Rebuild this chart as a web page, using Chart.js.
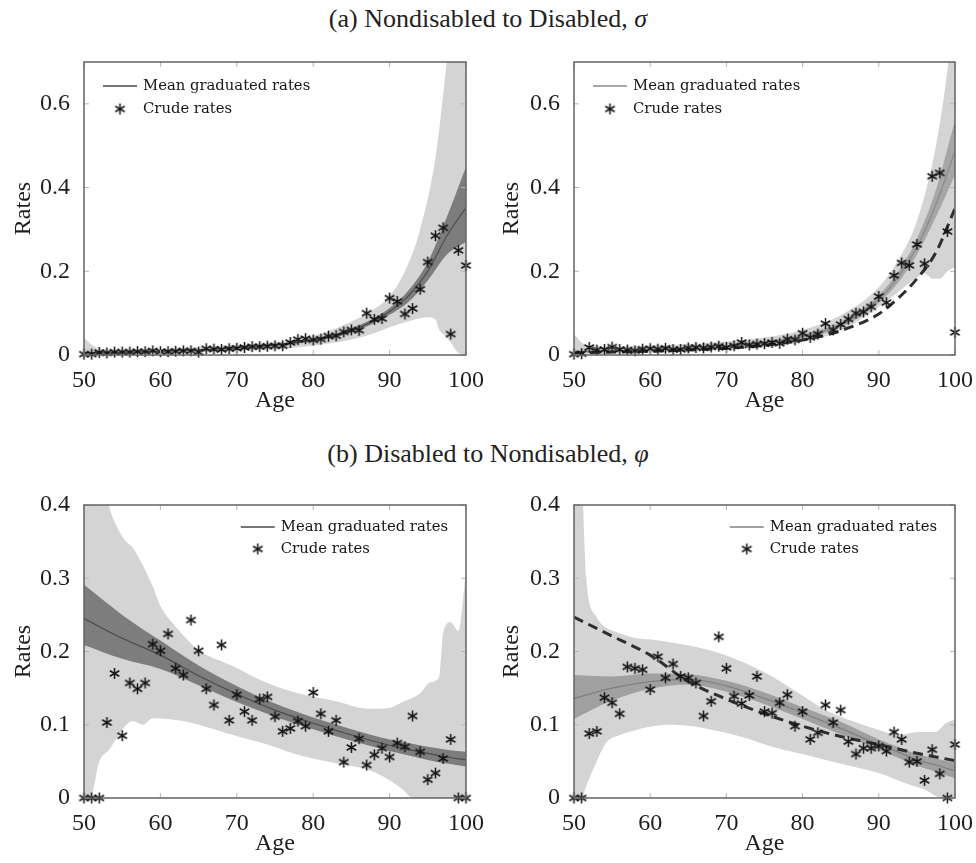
<!DOCTYPE html>
<html>
<head>
<meta charset="utf-8">
<title>Transition rates</title>
<script src="https://cdn.jsdelivr.net/npm/chart.js@4.4.0/dist/chart.umd.min.js"></script>
<style>
  body { margin: 0; background: #fff; }
  #page { position: relative; width: 976px; height: 863px; }
  .title {
    position: absolute; left: 0; width: 976px; text-align: center;
    font-family: "Liberation Serif", serif; font-size: 26px; color: #222;
  }
  canvas { position: absolute; }
</style>
</head>
<body>
<div id="page">
  <div class="title" style="top: 4px;">(a) Nondisabled to Disabled, <i>σ</i></div>
  <canvas id="chartA1" width="488" height="377" style="left: 0; top: 40px;"></canvas>
  <canvas id="chartA2" width="488" height="377" style="left: 488px; top: 40px;"></canvas>
  <div class="title" style="top: 439px;">(b) Disabled to Nondisabled, <i>φ</i></div>
  <canvas id="chartB1" width="488" height="377" style="left: 0; top: 483px;"></canvas>
  <canvas id="chartB2" width="488" height="377" style="left: 488px; top: 483px;"></canvas>
</div>

<script>
// ---- ticks ----
const xTicks = [50, 60, 70, 80, 90, 100];
const yTicksA = [0, 0.2, 0.4, 0.6];
const yTicksB = [0, 0.1, 0.2, 0.3, 0.4];

// ---- ages ----
const crudeAges = [50, 51, 52, 53, 54, 55, 56, 57, 58, 59,
                   60, 61, 62, 63, 64, 65, 66, 67, 68, 69,
                   70, 71, 72, 73, 74, 75, 76, 77, 78, 79,
                   80, 81, 82, 83, 84, 85, 86, 87, 88, 89,
                   90, 91, 92, 93, 94, 95, 96, 97, 98, 99, 100];
const curveAges = [50, 55, 60, 65, 70, 75, 80, 85, 90, 92.5, 95, 97.5, 100];

// ---- (a) left: nondisabled to disabled ----
const crudeA1 = [0.002, 0.002, 0.006, 0.005, 0.007, 0.007, 0.007, 0.008, 0.008, 0.010,
                 0.008, 0.008, 0.009, 0.010, 0.010, 0.007, 0.015, 0.014, 0.013, 0.015,
                 0.016, 0.018, 0.020, 0.020, 0.021, 0.022, 0.022, 0.030, 0.037, 0.039,
                 0.036, 0.038, 0.045, 0.046, 0.055, 0.060, 0.059, 0.100, 0.085, 0.087,
                 0.136, 0.128, 0.098, 0.111, 0.157, 0.222, 0.285, 0.304, 0.050, 0.250, 0.214];
const meanA1 = [0.005, 0.007, 0.009, 0.012, 0.017, 0.024, 0.036, 0.058, 0.104, 0.142, 0.200, 0.285, 0.352];
const innerHiA1 = [0.006, 0.008, 0.010, 0.013, 0.018, 0.026, 0.039, 0.063, 0.112, 0.155, 0.222, 0.330, 0.450];
const innerLoA1 = [0.004, 0.006, 0.008, 0.011, 0.016, 0.022, 0.033, 0.053, 0.096, 0.127, 0.178, 0.240, 0.270];
const outerHiAgesA1 = [50, 51, 52, 55, 60, 65, 70, 75, 80, 85, 88, 90, 92, 94, 96, 97, 98, 100];
const outerHiA1 = [0.040, 0.025, 0.015, 0.012, 0.014, 0.018, 0.024, 0.030, 0.045, 0.080, 0.110, 0.140, 0.200, 0.300, 0.470, 0.620, 0.800, 1.300];
const outerLoAgesA1 = [50, 55, 60, 65, 70, 75, 80, 85, 88, 90, 92, 94, 95, 96, 96.5, 97, 98, 99, 100];
const outerLoA1 = [0, 0.003, 0.005, 0.007, 0.010, 0.014, 0.022, 0.037, 0.052, 0.066, 0.078, 0.088, 0.090, 0.085, 0.060, 0.050, 0.030, 0.005, 0];

// ---- (a) right ----
const crudeA2 = [0.002, 0.003, 0.018, 0.012, 0.013, 0.019, 0.013, 0.012, 0.010, 0.014,
                 0.015, 0.014, 0.016, 0.013, 0.013, 0.017, 0.018, 0.017, 0.019, 0.021,
                 0.018, 0.022, 0.030, 0.024, 0.026, 0.027, 0.030, 0.028, 0.038, 0.036,
                 0.052, 0.042, 0.050, 0.075, 0.060, 0.073, 0.086, 0.100, 0.103, 0.115,
                 0.140, 0.125, 0.190, 0.220, 0.214, 0.264, 0.218, 0.427, 0.435, 0.295, 0.054];
const meanA2 = [0.008, 0.010, 0.013, 0.016, 0.021, 0.029, 0.045, 0.072, 0.134, 0.185, 0.258, 0.360, 0.487];
const innerHiA2 = [0.010, 0.012, 0.015, 0.018, 0.023, 0.032, 0.049, 0.078, 0.143, 0.198, 0.278, 0.395, 0.560];
const innerLoA2 = [0.006, 0.008, 0.011, 0.014, 0.019, 0.026, 0.041, 0.066, 0.125, 0.172, 0.240, 0.330, 0.430];
const dashedA2 = [0.005, 0.007, 0.009, 0.012, 0.016, 0.023, 0.036, 0.058, 0.098, 0.135, 0.182, 0.245, 0.350];
const outerHiAgesA2 = [50, 51, 52, 55, 60, 65, 70, 75, 80, 85, 90, 92.5, 95, 97.5, 99, 100];
const outerHiA2 = [0.050, 0.030, 0.022, 0.020, 0.022, 0.026, 0.032, 0.042, 0.060, 0.095, 0.162, 0.225, 0.320, 0.500, 0.680, 0.850];
const outerLoAgesA2 = [50, 55, 60, 65, 70, 75, 80, 85, 90, 92.5, 95, 96, 96.5, 97, 98, 99, 100];
const outerLoA2 = [0, 0.003, 0.006, 0.009, 0.013, 0.019, 0.031, 0.058, 0.115, 0.150, 0.185, 0.195, 0.190, 0.182, 0.182, 0.200, 0.210];

// ---- (b) left: disabled to nondisabled ----
const crudeB1 = [0, 0, 0, 0.103, 0.170, 0.085, 0.157, 0.149, 0.157, 0.210,
                 0.201, 0.224, 0.177, 0.168, 0.243, 0.201, 0.149, 0.127, 0.209, 0.106,
                 0.141, 0.118, 0.106, 0.135, 0.138, 0.111, 0.091, 0.095, 0.105, 0.098,
                 0.144, 0.115, 0.091, 0.106, 0.049, 0.069, 0.081, 0.045, 0.059, 0.068,
                 0.056, 0.075, 0.070, 0.112, 0.063, 0.025, 0.034, 0.054, 0.080, 0, 0];
const meanB1 = [0.245, 0.218, 0.195, 0.167, 0.142, 0.120, 0.102, 0.086, 0.072, 0.066, 0.061, 0.056, 0.052];
const innerHiB1 = [0.291, 0.250, 0.215, 0.181, 0.153, 0.129, 0.110, 0.094, 0.080, 0.075, 0.070, 0.066, 0.063];
const innerLoB1 = [0.209, 0.190, 0.176, 0.154, 0.131, 0.111, 0.094, 0.078, 0.064, 0.058, 0.052, 0.047, 0.043];
const outerHiAgesB1 = [50, 53, 55, 56.5, 59, 60, 62, 65, 69.5, 74, 78, 83, 87, 90, 91.5, 94, 95.3, 96.5, 97, 98, 99, 100];
const outerHiB1 = [0.600, 0.410, 0.357, 0.340, 0.289, 0.262, 0.234, 0.202, 0.180, 0.157, 0.143, 0.132, 0.122, 0.123, 0.130, 0.143, 0.158, 0.166, 0.225, 0.240, 0.228, 0.310];
const outerLoAgesB1 = [50, 50.8, 52, 53.3, 55, 56.3, 57.7, 59, 63, 65, 69.5, 74, 78, 82.6, 87, 89, 91.8, 93, 100];
const outerLoB1 = [0, 0, 0.050, 0.066, 0.093, 0.105, 0.100, 0.109, 0.105, 0.100, 0.086, 0.073, 0.059, 0.048, 0.039, 0.030, 0.011, 0, 0];

// ---- (b) right ----
const crudeB2 = [0, 0, 0.088, 0.091, 0.137, 0.130, 0.115, 0.179, 0.177, 0.175,
                 0.148, 0.193, 0.164, 0.183, 0.166, 0.164, 0.157, 0.112, 0.132, 0.220,
                 0.177, 0.139, 0.129, 0.140, 0.166, 0.118, 0.116, 0.130, 0.141, 0.098,
                 0.118, 0.080, 0.089, 0.127, 0.103, 0.120, 0.077, 0.060, 0.068, 0.068,
                 0.071, 0.064, 0.090, 0.080, 0.049, 0.050, 0.024, 0.066, 0.033, 0, 0.073];
const meanB2 = [0.136, 0.150, 0.159, 0.162, 0.153, 0.136, 0.116, 0.095, 0.073, 0.063, 0.052, 0.045, 0.037];
const innerHiB2 = [0.168, 0.166, 0.170, 0.169, 0.160, 0.144, 0.124, 0.104, 0.080, 0.070, 0.060, 0.054, 0.048];
const innerLoB2 = [0.108, 0.133, 0.149, 0.155, 0.145, 0.128, 0.108, 0.087, 0.066, 0.055, 0.044, 0.036, 0.027];
const dashedB2 = [0.247, 0.221, 0.195, 0.159, 0.135, 0.115, 0.098, 0.084, 0.073, 0.067, 0.061, 0.056, 0.051];
const outerHiAgesB2 = [50, 51, 51.6, 52.9, 53.8, 56, 58.2, 60.3, 63, 65.6, 69, 72.5, 76, 79.5, 83, 86.5, 90, 92.6, 95.2, 97.4, 98.8, 100];
const outerHiB2 = [0.600, 0.450, 0.300, 0.248, 0.236, 0.225, 0.218, 0.216, 0.212, 0.207, 0.198, 0.184, 0.166, 0.143, 0.120, 0.105, 0.093, 0.086, 0.090, 0.090, 0.102, 0.107];
const outerLoAgesB2 = [50, 51, 51.6, 52.9, 54.2, 56, 58.2, 60.3, 63, 65.6, 69, 72.5, 76, 79.5, 83, 86.5, 90, 93.5, 96.1, 98.3, 100];
const outerLoB2 = [0, 0, 0.016, 0.048, 0.075, 0.086, 0.093, 0.098, 0.100, 0.098, 0.091, 0.082, 0.070, 0.061, 0.052, 0.043, 0.034, 0.020, 0.011, 0, 0];

const LIGHT_GRAY = "#d4d4d4";
const TEXT_COLOR = "#1e1e1e";
const SERIF = "Liberation Serif";
const LEGEND_FONT = "14.8px 'DejaVu Serif'";

Chart.defaults.font.family = SERIF;

// asterisk marker (6 spokes, like the pgfplots one)
function makeAsterisk() {
    const c = document.createElement("canvas");
    c.width = 13;
    c.height = 13;
    const g = c.getContext("2d");
    g.strokeStyle = "#141414";
    g.lineWidth = 1.5;
    g.translate(6.5, 6.5);
    for (let k = 0; k < 3; k++) {
        const a = Math.PI / 2 + k * Math.PI / 3;
        g.beginPath();
        g.moveTo(Math.cos(a) * 5.5, Math.sin(a) * 5.5);
        g.lineTo(-Math.cos(a) * 5.5, -Math.sin(a) * 5.5);
        g.stroke();
    }
    return c;
}
const asterisk = makeAsterisk();

function pairs(xs, ys) {
    return xs.map((x, i) => ({ x: x, y: ys[i] }));
}

// box around the plot with small inward ticks on every side
const frameTicks = {
    id: "frameTicks",
    afterDatasetsDraw(chart) {
        const { ctx, chartArea: a, scales } = chart;
        ctx.save();
        ctx.strokeStyle = "#b5b5b5";
        ctx.lineWidth = 1;
        const len = 5;
        scales.x.ticks.forEach(t => {
            const px = scales.x.getPixelForValue(t.value);
            ctx.beginPath();
            ctx.moveTo(px, a.bottom); ctx.lineTo(px, a.bottom - len);
            ctx.moveTo(px, a.top); ctx.lineTo(px, a.top + len);
            ctx.stroke();
        });
        scales.y.ticks.forEach(t => {
            const py = scales.y.getPixelForValue(t.value);
            ctx.beginPath();
            ctx.moveTo(a.left, py); ctx.lineTo(a.left + len, py);
            ctx.moveTo(a.right, py); ctx.lineTo(a.right - len, py);
            ctx.stroke();
        });
        ctx.strokeStyle = "#636363";
        ctx.lineWidth = 1.5;
        ctx.strokeRect(a.left, a.top, a.right - a.left, a.bottom - a.top);
        ctx.restore();
    }
};

// legend drawn inside the plot area
const insideLegend = {
    id: "insideLegend",
    afterDraw(chart, args, opts) {
        const { ctx, chartArea: a } = chart;
        ctx.save();
        ctx.font = LEGEND_FONT;
        ctx.fillStyle = "#161616";
        ctx.textBaseline = "middle";
        const w = ctx.measureText("Mean graduated rates").width;
        let textX;
        if (opts.align === "right") {
            textX = a.right - 18 - w;
        } else {
            textX = a.left + 59;
        }
        const row1 = a.top + opts.rowY[0];
        const row2 = a.top + opts.rowY[1];
        ctx.strokeStyle = opts.lineColor;
        ctx.lineWidth = 1.3;
        ctx.beginPath();
        ctx.moveTo(textX - 40, row1);
        ctx.lineTo(textX - 6, row1);
        ctx.stroke();
        ctx.drawImage(asterisk, textX - 23 - 6.5, row2 - 6.5);
        ctx.fillText("Mean graduated rates", textX, row1);
        ctx.fillText("Crude rates", textX, row2);
        ctx.restore();
    }
};

function makePanel(canvasId, p) {
    const datasets = [
        { data: pairs(p.outerLoAges, p.outerLo), borderWidth: 0, pointRadius: 0, fill: false,
          cubicInterpolationMode: "monotone", order: 5 },
        { data: pairs(p.outerHiAges, p.outerHi), borderWidth: 0, pointRadius: 0, fill: "-1",
          backgroundColor: LIGHT_GRAY, cubicInterpolationMode: "monotone", order: 5 },
        { data: pairs(curveAges, p.innerLo), borderWidth: 0, pointRadius: 0, fill: false,
          cubicInterpolationMode: "monotone", order: 4 },
        { data: pairs(curveAges, p.innerHi), borderWidth: 0, pointRadius: 0, fill: "-1",
          backgroundColor: p.darkColor, cubicInterpolationMode: "monotone", order: 4 },
        { data: pairs(curveAges, p.mean), borderColor: p.lineColor, borderWidth: 1.2, pointRadius: 0,
          fill: false, cubicInterpolationMode: "monotone", order: 3 }
    ];
    if (p.dashed) {
        datasets.push({ data: pairs(curveAges, p.dashed), borderColor: "#2e2e2e", borderWidth: 3,
            borderDash: [10, 6], pointRadius: 0, fill: false, cubicInterpolationMode: "monotone", order: 2 });
    }
    datasets.push({ data: pairs(crudeAges, p.crude), showLine: false, pointStyle: asterisk,
        pointRadius: 5, clip: false, order: 1 });

    return new Chart(document.getElementById(canvasId), {
        type: "line",
        data: { datasets },
        options: {
            responsive: false,
            animation: false,
            layout: { padding: { top: 22, right: p.padRight, left: 0, bottom: 0 } },
            plugins: {
                legend: { display: false },
                tooltip: { enabled: false },
                insideLegend: { align: p.legendAlign, rowY: p.legendRows, lineColor: p.lineColor }
            },
            scales: {
                x: {
                    type: "linear", min: 50, max: 100,
                    afterBuildTicks: s => { s.ticks = xTicks.map(v => ({ value: v })); },
                    afterFit: s => { s.height = 62; },
                    grid: { display: false }, border: { display: false },
                    ticks: { padding: 3, color: TEXT_COLOR, font: { family: SERIF, size: 24 } },
                    title: { display: true, text: "Age", color: TEXT_COLOR, padding: { top: 0, bottom: 2 },
                             font: { family: SERIF, size: 24 } }
                },
                y: {
                    type: "linear", min: 0, max: p.yMax,
                    afterBuildTicks: s => { s.ticks = p.yTicks.map(v => ({ value: v })); },
                    afterFit: s => { s.width = p.yWidth; },
                    grid: { display: false }, border: { display: false },
                    ticks: { padding: 6, color: TEXT_COLOR, font: { family: SERIF, size: 24 },
                             callback: v => String(v) },
                    title: { display: true, text: "Rates", color: TEXT_COLOR, padding: { top: 9, bottom: 0 },
                             font: { family: SERIF, size: 24 } }
                }
            }
        },
        plugins: [frameTicks, insideLegend]
    });
}

function drawAll() {
    makePanel("chartA1", {
        yMax: 0.7, yTicks: yTicksA, yWidth: 84, padRight: 22,
        crude: crudeA1, mean: meanA1, innerHi: innerHiA1, innerLo: innerLoA1,
        outerHiAges: outerHiAgesA1, outerHi: outerHiA1, outerLoAges: outerLoAgesA1, outerLo: outerLoA1,
        darkColor: "#7d7d7d", lineColor: "#4a4a4a", legendAlign: "left", legendRows: [24, 47]
    });
    makePanel("chartA2", {
        yMax: 0.7, yTicks: yTicksA, yWidth: 86, padRight: 20,
        crude: crudeA2, mean: meanA2, innerHi: innerHiA2, innerLo: innerLoA2, dashed: dashedA2,
        outerHiAges: outerHiAgesA2, outerHi: outerHiA2, outerLoAges: outerLoAgesA2, outerLo: outerLoA2,
        darkColor: "#a6a6a6", lineColor: "#8a8a8a", legendAlign: "left", legendRows: [24, 47]
    });
    makePanel("chartB1", {
        yMax: 0.4, yTicks: yTicksB, yWidth: 84, padRight: 22,
        crude: crudeB1, mean: meanB1, innerHi: innerHiB1, innerLo: innerLoB1,
        outerHiAges: outerHiAgesB1, outerHi: outerHiB1, outerLoAges: outerLoAgesB1, outerLo: outerLoB1,
        darkColor: "#7d7d7d", lineColor: "#4a4a4a", legendAlign: "right", legendRows: [22, 44]
    });
    makePanel("chartB2", {
        yMax: 0.4, yTicks: yTicksB, yWidth: 86, padRight: 20,
        crude: crudeB2, mean: meanB2, innerHi: innerHiB2, innerLo: innerLoB2, dashed: dashedB2,
        outerHiAges: outerHiAgesB2, outerHi: outerHiB2, outerLoAges: outerLoAgesB2, outerLo: outerLoB2,
        darkColor: "#a0a0a0", lineColor: "#808080", legendAlign: "right", legendRows: [22, 44]
    });
}

// make sure the serif faces are ready before the canvases use them
Promise.all([
    document.fonts.load("24px 'Liberation Serif'"),
    document.fonts.load("14.8px 'DejaVu Serif'")
]).then(drawAll, drawAll);
</script>
</body>
</html>
